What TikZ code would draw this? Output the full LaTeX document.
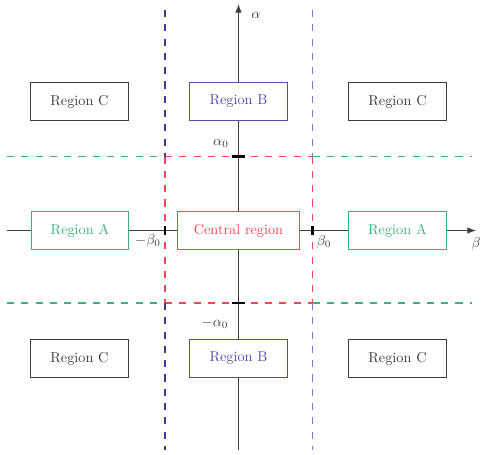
\documentclass[tikz,border=0pt]{standalone}
\usetikzlibrary{arrows.meta}
\definecolor{cgreen}{RGB}{60,178,120}
\definecolor{cred}{RGB}{245,70,85}
\definecolor{cnavy}{RGB}{60,60,150}
\definecolor{clblue}{RGB}{120,120,210}
\definecolor{cbbox}{RGB}{80,80,170}
\definecolor{cgray}{RGB}{60,60,60}
\begin{document}
\begin{tikzpicture}[x=0.7pt,y=-0.7pt,
  regbox/.style={draw, fill=white, line width=0.7pt, minimum width=68pt, minimum height=26pt, inner sep=0pt},
  axisline/.style={draw=cgray, line width=0.7pt},
  dashline/.style={line width=1pt, dash pattern=on 5pt off 5pt},
  tickmark/.style={draw=black, line width=2pt},
  lbl/.style={text=cgray, inner sep=1pt}]
\useasboundingbox (0,0) rectangle (502,455);
% coordinates
\coordinate (vtop) at (238.5,4);
\coordinate (vbot) at (238.5,450);
\coordinate (hleft) at (7,230.5);
\coordinate (hright) at (476,230.5);
\coordinate (ul) at (165,156.5);
\coordinate (ur) at (312.5,156.5);
\coordinate (ll) at (165,303);
\coordinate (lr) at (312.5,303);
\coordinate (vlt) at (165,10);
\coordinate (vlb) at (165,450);
\coordinate (vrt) at (312.5,10);
\coordinate (vrb) at (312.5,450);
\coordinate (htl) at (7,156.5);
\coordinate (htr) at (472,156.5);
\coordinate (hbl) at (7,303);
\coordinate (hbr) at (472,303);
% dashed lines, horizontal
\draw[dashline, draw=cgreen] (htl) -- (ul);
\draw[dashline, draw=cgreen] (ur) -- (htr);
\draw[dashline, draw=cgreen] (hbl) -- (ll);
\draw[dashline, draw=cgreen] (lr) -- (hbr);
\draw[dashline, draw=cred] (ul) -- (ur);
\draw[dashline, draw=cred] (ll) -- (lr);
% dashed lines, vertical
\draw[dashline, draw=cnavy] (vlt) -- (ul);
\draw[dashline, draw=cnavy] (ll) -- (vlb);
\draw[dashline, draw=clblue] (vrt) -- (ur);
\draw[dashline, draw=clblue] (lr) -- (vrb);
\draw[dashline, draw=cred] (ul) -- (ll);
\draw[dashline, draw=cred] (ur) -- (lr);
% axes
\draw[axisline, -{Latex[length=6pt,width=4.5pt]}] (vbot) -- (vtop);
\draw[axisline, -{Latex[length=6pt,width=4.5pt]}] (hleft) -- (hright);
% ticks
\draw[tickmark] (232,156.5) -- (245,156.5);
\draw[tickmark] (232,303) -- (245,303);
\draw[tickmark] (165,226) -- (165,235);
\draw[tickmark] (312.5,226) -- (312.5,235);
% boxes
\node[regbox, draw=cgray, text=cgray] (c1) at (79.5,101.5) {Region C};
\node[regbox, draw=cbbox, text=cbbox] (b1) at (238.5,101.5) {Region B};
\node[regbox, draw=cgray, text=cgray] (c2) at (397.5,101.5) {Region C};
\node[regbox, draw=cgreen, text=cgreen] (a1) at (80,230.5) {Region A};
\node[regbox, draw=cred, text=cred, minimum width=86pt] (cr) at (238.5,230.5) {Central region};
\node[regbox, draw=cgreen, text=cgreen] (a2) at (397.5,230.5) {Region A};
\node[regbox, draw=cgray, text=cgray] (c3) at (79.5,358.5) {Region C};
\node[regbox, draw=cbbox, text=cbbox] (b2) at (238.5,358.5) {Region B};
\node[regbox, draw=cgray, text=cgray] (c4) at (397.5,358.5) {Region C};
% labels
\node[lbl] (la) at (256,15) {$\alpha$};
\node[lbl] (lb) at (476,244) {$\beta$};
\node[lbl] (la0) at (221,143) {$\alpha_0$};
\node[lbl] (lma0) at (215,323) {$-\alpha_0$};
\node[lbl] (lmb0) at (148,241) {$-\beta_0$};
\node[lbl] (lb0) at (324,242) {$\beta_0$};
\end{tikzpicture}
\end{document}
